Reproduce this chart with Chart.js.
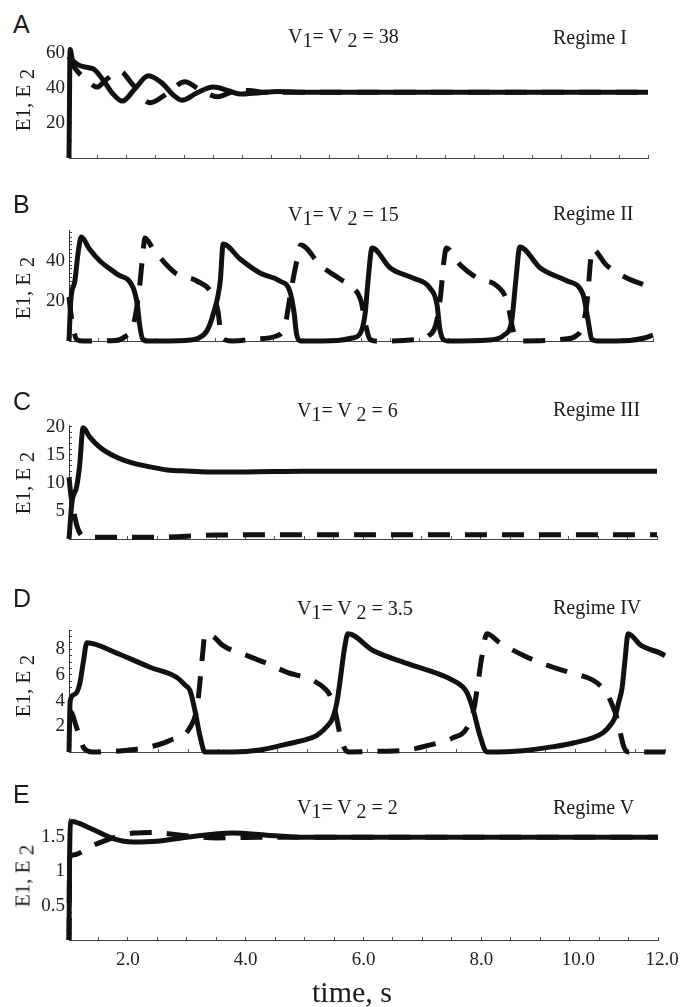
<!DOCTYPE html>
<html>
<head>
<meta charset="utf-8">
<script src="https://cdn.jsdelivr.net/npm/chart.js@4.4.0/dist/chart.umd.min.js"></script>
<style>
  body { margin: 0; background: #fff; }
  #page { position: relative; width: 681px; height: 1007px; overflow: hidden; font-family: 'Liberation Serif', serif; color: #1a1a1a; }
  .panel { position: absolute; left: 0; width: 681px; }
  .txt { position: absolute; white-space: nowrap; line-height: 1; }
  .letter { font-family: 'Liberation Sans', sans-serif; font-size: 25px; }
  .vtitle { font-size: 20px; }
  .regime { font-size: 20px; }
  .ytitle { font-size: 21px; transform: translate(-50%, -50%) rotate(-90deg); }
  .sub { position: relative; top: 4px; }
  .xtitle { font-size: 30px; }
</style>
</head>
<body>
<div id="page"></div>
<script>
// time axis runs 1..11 on every panel; the bottom labels sit where the figure put them
const timeTickPos = [2, 4, 6, 8, 9.65, 11.07];
const timeTickText = ['2.0', '4.0', '6.0', '8.0', '10.0', '12.0'];

const letters = ['A', 'B', 'C', 'D', 'E'];
const vValues = ['38', '15', '6', '3.5', '2'];
const regimes = ['Regime I', 'Regime II', 'Regime III', 'Regime IV', 'Regime V'];

// y axes: max, labelled ticks, minor step
const yMaxes = [63.4, 55.5, 20.3, 9.5, 1.78];
const yLabelsA = [20, 40, 60];
const yLabelsB = [20, 40];
const yLabelsC = [5, 10, 15, 20];
const yLabelsD = [2, 4, 6, 8];
const yLabelsE = [0.5, 1, 1.5];
const yMinorSteps = [10, 2, 1, 0.5, 0.1];

// [time, value]
const solidA = [[1.0,0],[1.02,62],[1.06,56],[1.41,51],[1.59,44.5],[1.75,37],[1.92,32.5],[2.15,40],[2.37,47],[2.6,43],[2.8,36],[2.95,33],[3.2,37],[3.49,40.5],[3.75,38.5],[3.95,36.5],[4.3,37.3],[4.6,38],[5.0,37.6],[6,37.5],[11,37.5]];
const dashedA = [[1.0,58],[1.05,54],[1.36,43],[1.48,40.5],[1.65,45],[1.88,49.5],[2.1,42],[2.4,31.5],[2.7,37],[3.0,43.5],[3.26,39],[3.57,35],[3.84,38],[4.1,38.5],[4.4,37.5],[5,37.5],[11,37.5]];

const solidB = [[1.0,0],[1.03,20],[1.1,30],[1.16,45],[1.21,52],[1.35,46],[1.53,40],[1.82,33.5],[2.1,26.5],[2.17,18],[2.21,8],[2.26,1],[2.35,0],[3.0,0.3],[3.2,1.2],[3.36,5],[3.47,13.5],[3.59,30],[3.64,48.5],[3.93,41],[4.27,34],[4.61,30],[4.78,25],[4.85,15],[4.9,3],[4.97,0],[5.6,0.3],[5.85,1.5],[5.98,3.5],[6.07,13.5],[6.12,30],[6.19,46.5],[6.5,36.5],[6.89,31.5],[7.18,26.5],[7.3,18.5],[7.35,6],[7.42,0.5],[7.5,0],[8.2,0.5],[8.45,3],[8.58,10],[8.65,30],[8.72,47],[9.07,36.5],[9.53,30],[9.8,23.5],[9.89,10],[9.95,1],[10.05,0],[10.6,0.3],[10.85,1.5],[11,3]];
const dashedB = [[1.0,22],[1.04,12],[1.09,4],[1.14,0.5],[1.25,0],[1.8,0.3],[1.95,2],[2.1,8],[2.2,25],[2.27,45],[2.3,51.5],[2.44,46],[2.82,34],[3.19,30],[3.45,23.5],[3.55,15],[3.6,4],[3.68,0.5],[3.8,0],[4.2,1],[4.55,2.5],[4.7,8],[4.8,25],[4.9,40],[4.97,48],[5.3,38],[5.64,31],[5.85,27],[6.0,20],[6.08,8],[6.15,1],[6.25,0],[7.0,1],[7.15,2.5],[7.28,8],[7.36,22],[7.42,40],[7.46,46.5],[7.7,38],[7.99,31.5],[8.33,27.5],[8.5,20],[8.6,6],[8.66,1],[8.75,0],[9.5,1],[9.68,2.5],[9.8,8],[9.88,22],[9.93,40],[9.96,46],[10.2,38],[10.55,31.5],[10.9,27.5],[11,26]];

const solidC = [[1.0,0],[1.05,6.5],[1.13,9.3],[1.18,13],[1.24,19.8],[1.35,18.2],[1.53,16.3],[1.8,14.6],[2.09,13.5],[2.4,12.8],[2.67,12.3],[3.0,12.1],[3.35,11.95],[4.0,11.95],[5,12.05],[6,12.05],[11,12.05]];
const dashedC = [[1.0,11],[1.03,8],[1.08,5],[1.13,2.5],[1.2,0.8],[1.3,0.3],[2.5,0.3],[3.0,0.5],[3.5,0.7],[4.5,0.75],[11,0.75]];

const solidD = [[1.0,0],[1.02,4.0],[1.1,4.5],[1.18,5.3],[1.24,7],[1.3,8.5],[1.8,7.7],[2.36,6.6],[2.81,5.8],[2.95,5.2],[3.03,4.8],[3.11,3.3],[3.2,1.2],[3.28,0],[3.75,0],[4.2,0.15],[4.6,0.55],[5.0,1.0],[5.16,1.3],[5.35,2.1],[5.43,2.7],[5.5,4],[5.55,5.6],[5.62,8],[5.68,9.2],[6.1,7.9],[6.67,6.9],[7.39,5.7],[7.6,5.1],[7.68,4.6],[7.78,3.3],[7.9,1.2],[8.01,0],[8.62,0.1],[9.1,0.4],[9.46,0.7],[9.96,1.5],[10.1,2.2],[10.16,2.7],[10.22,3.8],[10.28,5.0],[10.33,7.2],[10.38,9.2],[10.6,8.3],[10.92,7.7],[11,7.5]];
const dashedD = [[1.0,3.2],[1.05,3.0],[1.12,2],[1.18,1.2],[1.25,0.3],[1.4,0],[1.9,0.1],[2.36,0.4],[2.69,0.9],[3.03,1.9],[3.15,3.5],[3.2,5.6],[3.25,8],[3.28,9.2],[3.42,9.0],[3.58,8.3],[3.99,7.5],[4.32,6.9],[4.66,6.2],[5.08,5.6],[5.3,4.9],[5.38,4.4],[5.46,3.3],[5.55,1.3],[5.62,0.3],[5.7,0],[6.2,0.05],[6.67,0.15],[7.06,0.55],[7.44,1.1],[7.68,1.9],[7.8,3.5],[7.85,5],[7.93,7.5],[8.01,9.2],[8.23,8.5],[8.68,7.4],[9.12,6.6],[9.4,6.2],[9.79,5.6],[9.93,5.1],[10.02,4.6],[10.12,3.6],[10.19,2.7],[10.25,1.5],[10.31,0.4],[10.38,0],[11,0]];

const solidE = [[1.0,0],[1.01,1.2],[1.03,1.72],[1.05,1.73],[1.36,1.63],[1.75,1.48],[2.09,1.43],[2.49,1.44],[3.0,1.5],[3.78,1.56],[4.36,1.53],[5,1.5],[11,1.5]];
const dashedE = [[1.0,0],[1.005,0.6],[1.01,1.2],[1.07,1.24],[1.41,1.38],[1.75,1.49],[2.1,1.56],[2.43,1.57],[2.9,1.53],[3.5,1.49],[4.2,1.5],[11,1.5]];

const solids = [solidA, solidB, solidC, solidD, solidE];
const dasheds = [dashedA, dashedB, dashedC, dashedD, dashedE];
const yLabels = [yLabelsA, yLabelsB, yLabelsC, yLabelsD, yLabelsE];

// page layout (pixels)
const plotTops = [47, 230, 425, 630, 818];
const axisYs = [158, 341, 539, 752, 940];
const plotRights = [648, 653, 657, 665, 658];
const letterBase = [33, 213, 410, 607, 803];
const titleBase = [43, 221, 417, 615, 814];
const titleLeft = [288, 288, 297, 297, 297];
const regimeBase = [44, 220, 416, 614, 814];
const yTitleMid = [100, 288, 483, 686, 876];

const page = document.getElementById('page');
const SERIF = "'Liberation Serif', serif";
const near = (a, b) => Math.abs(a - b) < 1e-6;

function addText(cls, html, left, top) {
  const d = document.createElement('div');
  d.className = 'txt ' + cls;
  d.innerHTML = html;
  d.style.left = left + 'px';
  d.style.top = top + 'px';
  page.appendChild(d);
  return d;
}

function makePanel(i) {
  const bottom = i === 4;
  const xh = bottom ? 45 : 6;
  const padTop = 8;
  const wrap = document.createElement('div');
  wrap.className = 'panel';
  wrap.style.top = (plotTops[i] - padTop) + 'px';
  wrap.style.height = (axisYs[i] - plotTops[i] + padTop + xh) + 'px';
  const cv = document.createElement('canvas');
  wrap.appendChild(cv);
  page.appendChild(wrap);

  const labels = yLabels[i];
  const step = yMinorSteps[i];
  const yTicks = [];
  for (let k = 0; k * step <= yMaxes[i] + 1e-9; k++) yTicks.push(Math.round(k * step * 1000) / 1000);

  const line = (pts, dash) => ({
    data: pts.map(([x, y]) => ({ x, y })),
    borderColor: '#111',
    borderWidth: 5,
    borderDash: dash,
    pointRadius: 0,
    cubicInterpolationMode: 'monotone',
    fill: false,
    clip: 10,
  });

  new Chart(cv, {
    type: 'line',
    data: { datasets: [line(solids[i], []), line(dasheds[i], [22, 15])] },
    options: {
      responsive: true,
      maintainAspectRatio: false,
      animation: false,
      events: [],
      layout: { padding: { top: padTop, left: 0, right: 681 - plotRights[i], bottom: 0 } },
      plugins: { legend: { display: false }, tooltip: { enabled: false } },
      scales: {
        x: {
          type: 'linear',
          min: 1,
          max: 11,
          afterBuildTicks: (s) => {
            const vals = [];
            for (let k = 0; k <= 20; k++) vals.push(1 + k * 0.5);
            if (bottom) timeTickPos.forEach((v) => { if (!vals.some((w) => near(w, v))) vals.push(v); });
            vals.sort((a, b) => a - b);
            s.ticks = vals.map((v) => ({ value: v }));
          },
          afterFit: (s) => { s.height = xh; s.paddingLeft = 0; s.paddingRight = 0; },
          grid: {
            drawOnChartArea: false,
            tickLength: -3, // ticks point into the plot
            color: (c) => (c.tick && Math.abs(c.tick.value * 2 - Math.round(c.tick.value * 2)) > 1e-6 ? 'rgba(0,0,0,0)' : '#555'),
          },
          border: { color: '#444', width: 1 },
          ticks: {
            display: bottom,
            autoSkip: false,
            maxRotation: 0,
            padding: 12,
            color: '#222',
            font: { family: SERIF, size: 19 },
            callback: (v) => {
              const j = timeTickPos.findIndex((p) => near(p, v));
              return j >= 0 ? timeTickText[j] : '';
            },
          },
        },
        y: {
          min: 0,
          max: yMaxes[i],
          afterBuildTicks: (s) => { s.ticks = yTicks.map((v) => ({ value: v })); },
          afterFit: (s) => { s.width = 69; s.paddingTop = 0; s.paddingBottom = 0; },
          grid: { drawOnChartArea: false, tickLength: -3, color: '#444' },
          border: { color: '#333', width: 1 },
          ticks: {
            autoSkip: false,
            padding: 7,
            color: '#222',
            font: { family: SERIF, size: 19 },
            callback: (v) => (labels.some((l) => near(l, v)) ? String(v) : ''),
          },
        },
      },
    },
  });

  // texts
  addText('letter', letters[i], 13, letterBase[i] - 0.8465 * 25);
  addText('vtitle', 'V<span class="sub">1</span>= V <span class="sub">2</span> = ' + vValues[i], titleLeft[i], titleBase[i] - 0.8375 * 20);
  addText('regime', regimes[i], 553, regimeBase[i] - 0.8375 * 20);
  addText('ytitle', 'E1, E <span class="sub">2</span>', 23, yTitleMid[i]);
}

for (let i = 0; i < 5; i++) makePanel(i);

const xt = addText('xtitle', 'time, s', 0, 1002 - 0.8375 * 30);
xt.style.left = '352px';
xt.style.transform = 'translateX(-50%)';
</script>
</body>
</html>
